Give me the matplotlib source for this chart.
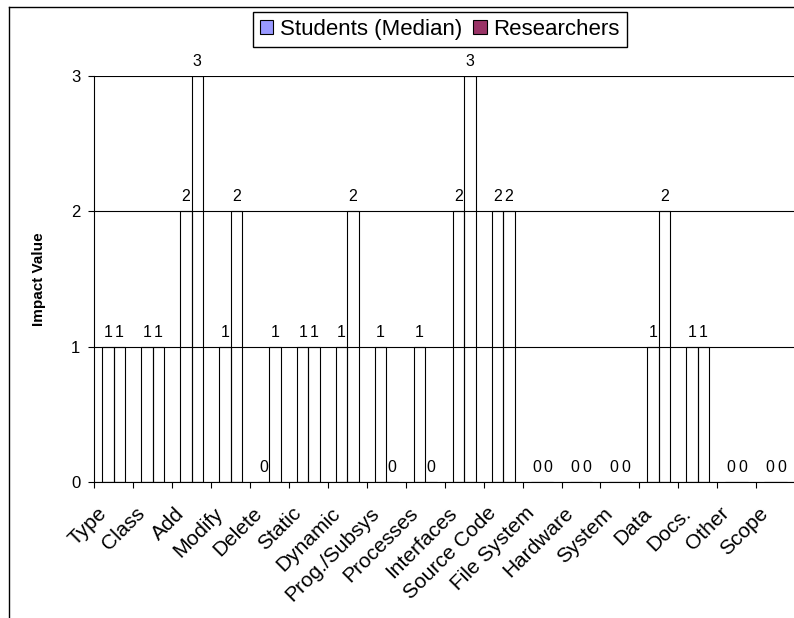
import matplotlib
matplotlib.use("Agg")
import matplotlib.pyplot as plt
import matplotlib.transforms as mtransforms
from matplotlib.lines import Line2D
from matplotlib.patches import Patch
import numpy as np

plt.rcParams['font.family'] = ['Liberation Sans', 'DejaVu Sans']

# impact per change category
categories = ['Type', 'Class', 'Add', 'Modify', 'Delete', 'Static', 'Dynamic',
              'Prog./Subsys', 'Processes', 'Interfaces', 'Source Code',
              'File System', 'Hardware', 'System', 'Data', 'Docs.', 'Other', 'Scope']
students = [1, 1, 2, 1, 0, 1, 1, 1, 1, 2, 2, 0, 0, 0, 1, 1, 0, 0]
researchers = [1, 1, 3, 2, 1, 1, 2, 0, 0, 3, 2, 0, 0, 0, 2, 1, 0, 0]
yticks = [0, 1, 2, 3]

fig = plt.figure(figsize=(7.94, 6.18), dpi=100)
ax = fig.add_axes([94.2 / 794, 136 / 618, 701 / 794, 406 / 618])

x = np.arange(len(categories))
w = 0.293
b1 = ax.bar(x - w / 2, students, w, facecolor='none', edgecolor='black', lw=0.8, zorder=3)
b2 = ax.bar(x + w / 2, researchers, w, facecolor='none', edgecolor='black', lw=0.8, zorder=3)

for bars, vals in ((b1, students), (b2, researchers)):
    for r, v in zip(bars, vals):
        ax.annotate(str(v), (r.get_x() + r.get_width() / 2, v), xytext=(0, 5),
                    textcoords='offset points', ha='center', va='bottom',
                    fontsize=11.5, clip_on=False)

ax.set_xlim(-0.5, len(categories) - 0.5)
ax.set_ylim(0, 3)
ax.set_yticks(yticks)
ax.yaxis.grid(True, color='black', lw=0.8)
ax.set_axisbelow(True)

# ticks at category boundaries, labels at centres
ax.set_xticks(np.arange(len(categories) + 1) - 0.5)
ax.set_xticklabels([])
ax.set_xticks(x, minor=True)
ax.set_xticklabels(categories, minor=True, rotation=45, ha='right',
                   rotation_mode='anchor', fontsize=15)
ax.tick_params(axis='x', which='minor', length=0, pad=12)
ax.tick_params(axis='x', which='major', length=4, width=0.8, direction='out')
ax.tick_params(axis='y', length=4, width=0.8, labelsize=12, pad=6)
shift = mtransforms.ScaledTranslation(-17 / 100, -5 / 100, fig.dpi_scale_trans)
for lbl in ax.xaxis.get_minorticklabels():
    lbl.set_transform(lbl.get_transform() + shift)

for s in ('top', 'right'):
    ax.spines[s].set_visible(False)
for s in ('left', 'bottom'):
    ax.spines[s].set_linewidth(0.8)

ax.set_ylabel('Impact Value', fontsize=11, fontweight='bold', labelpad=18)

handles = [Patch(facecolor='#9999FF', edgecolor='black', lw=0.8),
           Patch(facecolor='#993366', edgecolor='black', lw=0.8)]
fig.legend(handles, ['Students (Median)', 'Researchers'], loc='upper center',
           bbox_to_anchor=(440 / 794, 1 - 12 / 618), ncol=2, fontsize=16,
           frameon=True, fancybox=False, edgecolor='black', framealpha=1,
           handlelength=0.6, handleheight=0.6, handletextpad=0.3,
           columnspacing=0.5, borderpad=0.32, borderaxespad=0)

# chart area border (left and top edges)
fig.add_artist(Line2D([8.7 / 794, 8.7 / 794], [0, 1 - 7 / 618], color='black', lw=1))
fig.add_artist(Line2D([8.7 / 794, 1], [1 - 7 / 618, 1 - 7 / 618], color='black', lw=1))

fig.savefig('out.png', dpi=100)
